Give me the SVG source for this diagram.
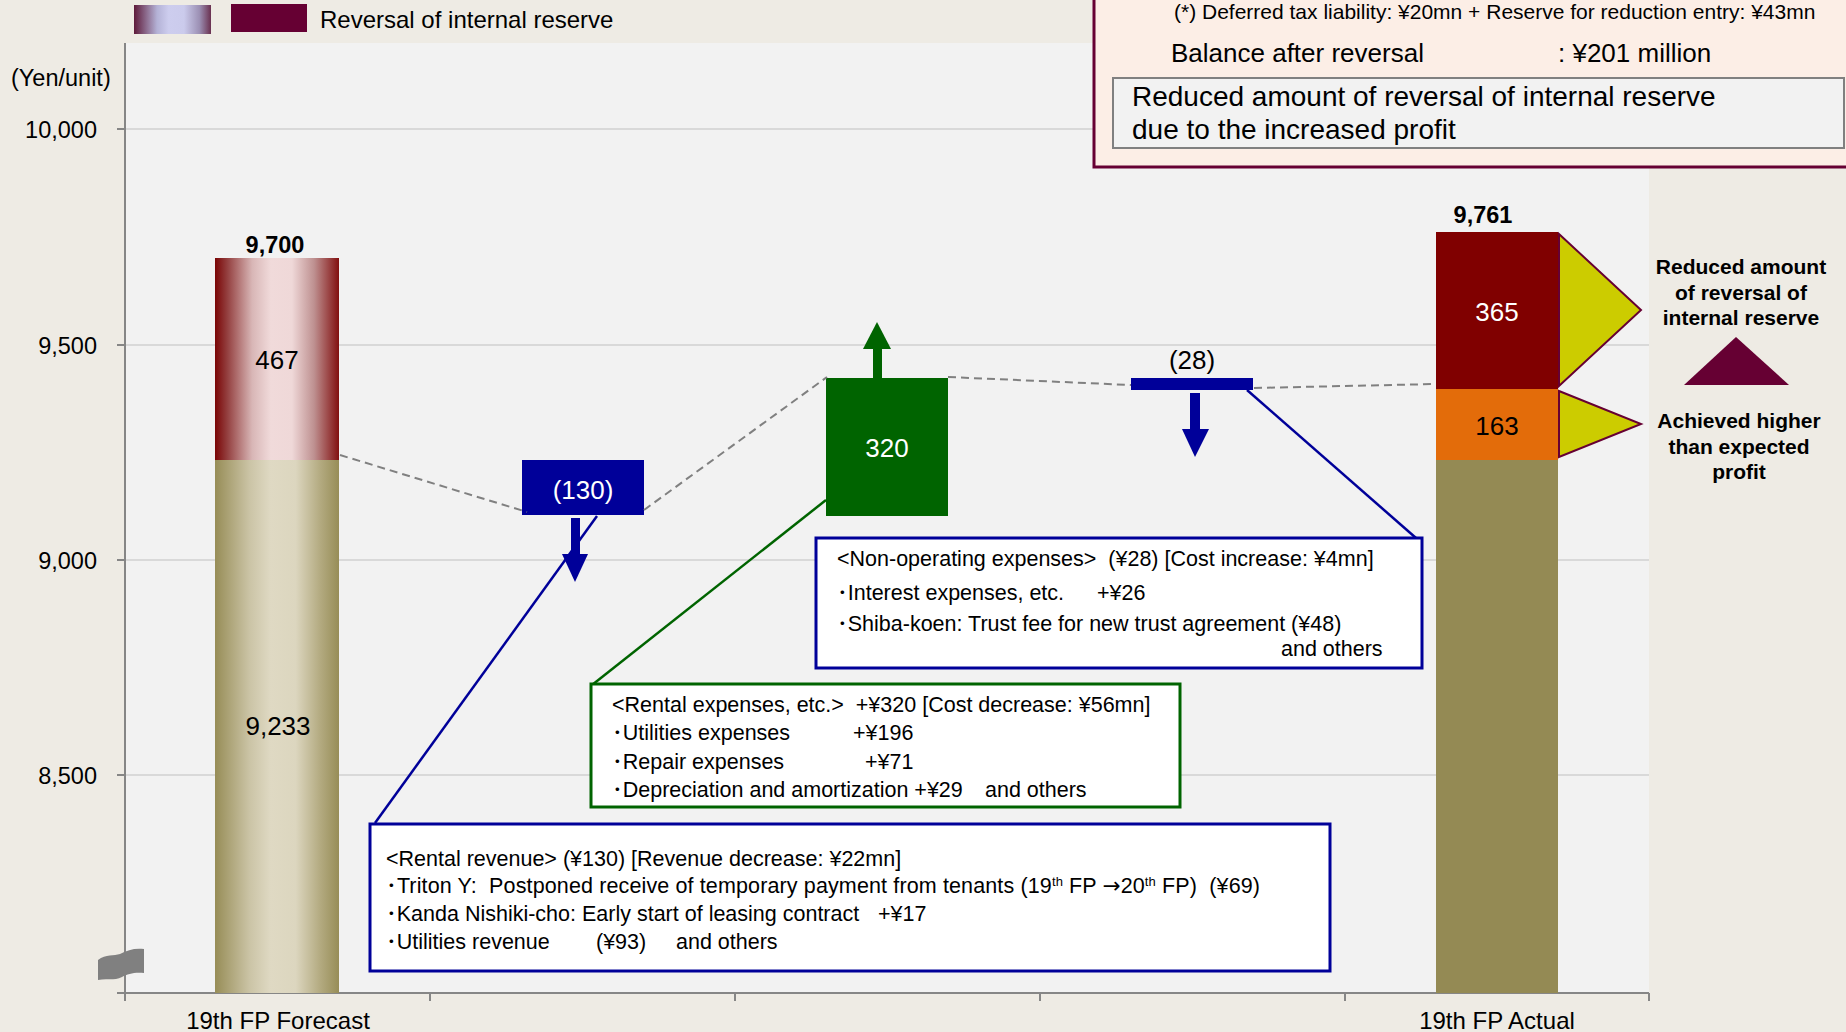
<svg xmlns="http://www.w3.org/2000/svg" width="1846" height="1032" viewBox="0 0 1846 1032">
<defs>
  <linearGradient id="gRes" x1="0" y1="0" x2="1" y2="0">
    <stop offset="0" stop-color="#7A0505"/>
    <stop offset="0.1" stop-color="#944040"/>
    <stop offset="0.3" stop-color="#D8B6B6"/>
    <stop offset="0.45" stop-color="#F0DADA"/>
    <stop offset="0.62" stop-color="#EFD8D8"/>
    <stop offset="0.8" stop-color="#BE9090"/>
    <stop offset="1" stop-color="#821010"/>
  </linearGradient>
  <linearGradient id="gBase" x1="0" y1="0" x2="1" y2="0">
    <stop offset="0" stop-color="#978D57"/>
    <stop offset="0.28" stop-color="#CBC4A6"/>
    <stop offset="0.45" stop-color="#DFD9C3"/>
    <stop offset="0.65" stop-color="#DCD6BF"/>
    <stop offset="0.85" stop-color="#B3AA80"/>
    <stop offset="1" stop-color="#978D57"/>
  </linearGradient>
  <linearGradient id="gLeg" x1="0" y1="0" x2="1" y2="0">
    <stop offset="0" stop-color="#5E1A3A"/>
    <stop offset="0.3" stop-color="#B4B2D6"/>
    <stop offset="0.45" stop-color="#CDCDEE"/>
    <stop offset="0.65" stop-color="#CBCBEC"/>
    <stop offset="0.85" stop-color="#9C90B4"/>
    <stop offset="1" stop-color="#6A3050"/>
  </linearGradient>
</defs>
<style>
  text { font-family: "Liberation Sans", "Noto Sans CJK JP", sans-serif; fill: #000; }
  .v { font-size: 26px; text-anchor: middle; }
  .w { fill: #fff; }
  .tot { font-size: 23.5px; font-weight: bold; text-anchor: middle; }
  .ax { font-size: 23.5px; text-anchor: end; }
  .cat { font-size: 24px; text-anchor: middle; }
  .bx { font-size: 21.5px; white-space: pre; }
  .side { font-size: 21px; font-weight: bold; text-anchor: middle; }
  .grid { stroke: #D9D9D9; stroke-width: 2; }
  .axis { stroke: #868686; stroke-width: 2; fill: none; }
  .dash { stroke: #808080; stroke-width: 2; stroke-dasharray: 8 5; fill: none; }
  .blue { fill: #000099; }
  .green { fill: #006400; }
  .tri { fill: #CCCC00; stroke: #660033; stroke-width: 2; }
  .arr { font-family: "DejaVu Sans", sans-serif; }
</style>

<!-- background -->
<rect x="0" y="0" width="1846" height="1032" fill="#EEEBE4"/>
<rect x="125" y="43" width="1524" height="950" fill="#F2F2F2"/>

<!-- legend -->
<g id="legend">
  <rect x="134" y="5" width="77" height="29" fill="url(#gLeg)"/>
  <rect x="231" y="4" width="76" height="28" fill="#660033"/>
  <text x="320" y="28" style="font-size:24px">Reversal of internal reserve</text>
</g>

<!-- axes & grid -->
<g id="axes">
  <line class="grid" x1="125" y1="129" x2="1649" y2="129"/>
  <line class="grid" x1="125" y1="345" x2="1649" y2="345"/>
  <line class="grid" x1="125" y1="560" x2="1649" y2="560"/>
  <line class="grid" x1="125" y1="775" x2="1649" y2="775"/>
  <line class="axis" x1="125" y1="43" x2="125" y2="1001"/>
  <line class="axis" x1="117" y1="993" x2="1649" y2="993"/>
  <line class="axis" x1="117" y1="129" x2="125" y2="129"/>
  <line class="axis" x1="117" y1="345" x2="125" y2="345"/>
  <line class="axis" x1="117" y1="560" x2="125" y2="560"/>
  <line class="axis" x1="117" y1="775" x2="125" y2="775"/>
  <line class="axis" x1="430" y1="993" x2="430" y2="1001"/>
  <line class="axis" x1="735" y1="993" x2="735" y2="1001"/>
  <line class="axis" x1="1040" y1="993" x2="1040" y2="1001"/>
  <line class="axis" x1="1345" y1="993" x2="1345" y2="1001"/>
  <line class="axis" x1="1649" y1="993" x2="1649" y2="1001"/>
  <path d="M98,960 C106,954 114,956 120,954 C128,950 134,948 144,949 L144,973 C134,972 128,974 122,977 C114,981 106,978 98,980 Z" fill="#808080"/>
  <text x="11" y="86" style="font-size:23.5px">(Yen/unit)</text>
  <text class="ax" x="97" y="137.5">10,000</text>
  <text class="ax" x="97" y="353.5">9,500</text>
  <text class="ax" x="97" y="568.5">9,000</text>
  <text class="ax" x="97" y="783.5">8,500</text>
  <text class="cat" x="278" y="1029">19th FP Forecast</text>
  <text class="cat" x="1497" y="1029">19th FP Actual</text>
</g>

<!-- forecast bar -->
<g id="forecast">
  <rect x="215" y="460" width="124" height="533" fill="url(#gBase)"/>
  <rect x="215" y="258" width="124" height="202" fill="url(#gRes)"/>
  <text class="tot" x="275" y="252.5">9,700</text>
  <text class="v" x="277" y="369">467</text>
  <text class="v" x="278" y="735">9,233</text>
</g>

<!-- rental revenue step -->
<g id="rev">
  <rect class="blue" x="522" y="460" width="122" height="55"/>
  <text class="v w" x="583" y="499">(130)</text>
  <rect class="blue" x="571" y="518" width="9" height="37"/>
  <polygon class="blue" points="562,554 588,554 575,582"/>
</g>

<!-- rental expenses step -->
<g id="exp">
  <rect class="green" x="826" y="378" width="122" height="138"/>
  <text class="v w" x="887" y="457">320</text>
  <rect class="green" x="873" y="348" width="9" height="31"/>
  <polygon class="green" points="863,349 891,349 877,322"/>
</g>

<!-- non-operating step -->
<g id="nonop">
  <rect class="blue" x="1131" y="378" width="122" height="12"/>
  <text class="v" x="1192" y="369">(28)</text>
  <rect class="blue" x="1190" y="393" width="10" height="37"/>
  <polygon class="blue" points="1182,429 1209,429 1195,457"/>
</g>

<!-- actual bar -->
<g id="actual">
  <rect x="1436" y="460" width="122" height="533" fill="#948A54"/>
  <rect x="1436" y="389" width="122" height="71" fill="#E36C0A"/>
  <rect x="1436" y="232" width="122" height="157" fill="#800000"/>
  <text class="tot" x="1483" y="222.5">9,761</text>
  <text class="v w" x="1497" y="321">365</text>
  <text class="v" x="1497" y="435">163</text>
  <polygon class="tri" points="1559,234 1641,310 1559,386"/>
  <polygon class="tri" points="1559,391 1641,424 1559,457"/>
</g>

<!-- side labels -->
<g id="side">
  <text class="side" x="1741" y="273.5">Reduced amount</text>
  <text class="side" x="1741" y="299.5">of reversal of</text>
  <text class="side" x="1741" y="324.5">internal reserve</text>
  <polygon points="1736,337 1789,385 1684,385" fill="#660033"/>
  <text class="side" x="1739" y="427.5">Achieved higher</text>
  <text class="side" x="1739" y="453.5">than expected</text>
  <text class="side" x="1739" y="478.5">profit</text>
</g>

<!-- connectors -->
<g id="connectors">
  <line class="dash" x1="340" y1="455" x2="527" y2="512"/>
  <line class="dash" x1="644" y1="510" x2="827" y2="377"/>
  <line class="dash" x1="948" y1="377" x2="1131" y2="385"/>
  <line class="dash" x1="1254" y1="388" x2="1435" y2="384"/>
  <line x1="597" y1="516" x2="375" y2="823" stroke="#000099" stroke-width="2.5"/>
  <line x1="826" y1="500" x2="592" y2="685" stroke="#006400" stroke-width="2.5"/>
  <line x1="1247" y1="390" x2="1416" y2="538" stroke="#000099" stroke-width="2.5"/>
</g>

<!-- note boxes -->
<g id="note-nonop">
  <rect x="816" y="538" width="606" height="130" fill="#fff" stroke="#000099" stroke-width="3"/>
  <text class="bx" x="837" y="566" xml:space="preserve">&lt;Non-operating expenses&gt;  (¥28) [Cost increase: ¥4mn]</text>
  <text class="bx" x="837" y="600">･Interest expenses, etc.<tspan x="1097">+¥26</tspan></text>
  <text class="bx" x="837" y="631">･Shiba-koen: Trust fee for new trust agreement (¥48)</text>
  <text class="bx" x="1281" y="656">and others</text>
</g>

<g id="note-exp">
  <rect x="591" y="684" width="589" height="123" fill="#fff" stroke="#006400" stroke-width="3"/>
  <text class="bx" x="612" y="712" xml:space="preserve">&lt;Rental expenses, etc.&gt;  +¥320 [Cost decrease: ¥56mn]</text>
  <text class="bx" x="612" y="740">･Utilities expenses<tspan x="853">+¥196</tspan></text>
  <text class="bx" x="612" y="769">･Repair expenses<tspan x="865">+¥71</tspan></text>
  <text class="bx" x="612" y="797">･Depreciation and amortization +¥29<tspan x="985">and others</tspan></text>
</g>

<g id="note-rev">
  <rect x="370" y="824" width="960" height="147" fill="#fff" stroke="#000099" stroke-width="3"/>
  <text class="bx" x="386" y="866">&lt;Rental revenue&gt; (¥130) [Revenue decrease: ¥22mn]</text>
  <text class="bx" x="386" y="893" xml:space="preserve" textLength="874">･Triton Y:  Postponed receive of temporary payment from tenants (19<tspan baseline-shift="super" style="font-size:13px">th</tspan> FP <tspan class="arr">→</tspan>20<tspan baseline-shift="super" style="font-size:13px">th</tspan> FP)  (¥69)</text>
  <text class="bx" x="386" y="921">･Kanda Nishiki-cho: Early start of leasing contract<tspan x="878">+¥17</tspan></text>
  <text class="bx" x="386" y="949">･Utilities revenue<tspan x="596">(¥93)</tspan><tspan x="676">and others</tspan></text>
</g>

<g id="note-reserve">
  <rect x="1094" y="-20" width="770" height="187" fill="#FCEEE6" stroke="#660033" stroke-width="3"/>
  <text x="1174" y="19" style="font-size:21px">(*) Deferred tax liability: ¥20mn + Reserve for reduction entry: ¥43mn</text>
  <text x="1171" y="62" style="font-size:26px">Balance after reversal</text>
  <text x="1558" y="62" style="font-size:26px">: ¥201 million</text>
  <rect x="1113" y="78" width="731" height="70" fill="#F2F2F2" stroke="#808080" stroke-width="2"/>
  <text x="1132" y="106" style="font-size:28px">Reduced amount of reversal of internal reserve</text>
  <text x="1132" y="139" style="font-size:28px">due to the increased profit</text>
</g>
</svg>
